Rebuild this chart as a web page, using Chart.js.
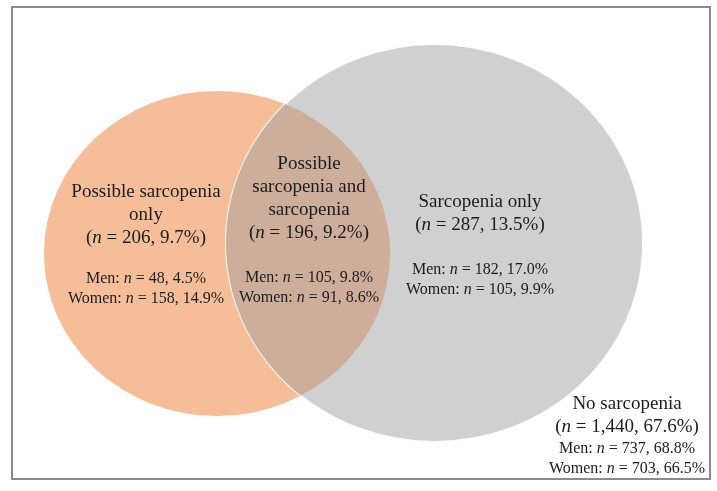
<!DOCTYPE html>
<html>
<head>
<meta charset="utf-8">
<script src="https://cdn.jsdelivr.net/npm/chart.js@4"></script>
<style>
html, body { margin: 0; padding: 0; background: #fff; }
#wrap { width: 717px; height: 491px; position: relative; }
</style>
</head>
<body>
<div id="wrap"><canvas id="myChart"></canvas></div>
<script>
// groups and counts
var groups = ['Possible sarcopenia\nonly', 'Possible\nsarcopenia and\nsarcopenia', 'Sarcopenia only', 'No sarcopenia'];
var totalN = [206, 196, 287, 1440];
var totalPct = [9.7, 9.2, 13.5, 67.6];
var menN = [48, 105, 182, 737];
var menPct = [4.5, 9.8, 17.0, 68.8];
var womenN = [158, 91, 105, 703];
var womenPct = [14.9, 8.6, 9.9, 66.5];

// layout (units of the x/y scales), stretch = width/height of the ellipse
var sets = [
    { name: 'Possible sarcopenia', x: 217, y: 253.5, r: 162.5, stretch: 1.065, color: '#F5BE98' },
    { name: 'Sarcopenia', x: 434.5, y: 243, r: 199, stretch: 1.048, color: '#D0D0D0' }
];
var lensColor = '#CDAE9B';
var labelPos = [
    { x: 146, y: 192, menY: 279 },
    { x: 309, y: 164, menY: 278 },
    { x: 480, y: 202, menY: 270 },
    { x: 627, y: 404, menY: 449 }
];
var frameBox = [12, 7, 710, 479];

var serif = "'Liberation Serif', 'Times New Roman', serif";
var textColor = '#1c1c1c';

function fmt(v) { return v.toLocaleString('en-US'); }

// draw a line made of plain / italic runs, centred on cx
function richLine(ctx, parts, cx, cy, size) {
    var widths = [], total = 0;
    parts.forEach(function (p) {
        ctx.font = (p[1] ? 'italic ' : '') + size + 'px ' + serif;
        var w = ctx.measureText(p[0]).width;
        widths.push(w);
        total += w;
    });
    var x = cx - total / 2;
    ctx.textAlign = 'left';
    ctx.textBaseline = 'middle';
    ctx.fillStyle = textColor;
    parts.forEach(function (p, i) {
        ctx.font = (p[1] ? 'italic ' : '') + size + 'px ' + serif;
        ctx.fillText(p[0], x, cy);
        x += widths[i];
    });
}

var vennPlugin = {
    id: 'venn',
    beforeDatasetDraw: function (chart, args) {
        var ctx = chart.ctx;
        var ds = chart.data.datasets[args.index];
        var el = args.meta.data[0];
        ctx.save();
        if (ds.clipTo !== undefined) {
            var g = chart.getDatasetMeta(ds.clipTo).data[0];
            var gs = chart.data.datasets[ds.clipTo].stretch;
            ctx.beginPath();
            ctx.ellipse(g.x, g.y, g.options.radius * gs, g.options.radius, 0, 0, Math.PI * 2);
            ctx.clip();
        }
        ctx.translate(el.x, 0);
        ctx.scale(ds.stretch, 1);
        ctx.translate(-el.x, 0);
    },
    afterDatasetDraw: function (chart) {
        chart.ctx.restore();
    },
    afterDraw: function (chart) {
        var ctx = chart.ctx;
        var xs = chart.scales.x, ys = chart.scales.y;

        // outer frame
        var x0 = xs.getPixelForValue(frameBox[0]), y0 = ys.getPixelForValue(frameBox[1]);
        var x1 = xs.getPixelForValue(frameBox[2]), y1 = ys.getPixelForValue(frameBox[3]);
        ctx.save();
        ctx.strokeStyle = '#8a8a8a';
        ctx.lineWidth = 2;
        ctx.strokeRect(x0, y0, x1 - x0, y1 - y0);

        // labels
        for (var i = 0; i < groups.length; i++) {
            var p = labelPos[i];
            var cx = xs.getPixelForValue(p.x);
            var lines = groups[i].split('\n');
            var y = p.y;
            lines.forEach(function (t) {
                richLine(ctx, [[t, false]], cx, ys.getPixelForValue(y), 19);
                y += 23;
            });
            richLine(ctx, [['(', false], ['n', true], [' = ' + fmt(totalN[i]) + ', ' + totalPct[i].toFixed(1) + '%)', false]],
                cx, ys.getPixelForValue(y), 19);
            richLine(ctx, [['Men: ', false], ['n', true], [' = ' + fmt(menN[i]) + ', ' + menPct[i].toFixed(1) + '%', false]],
                cx, ys.getPixelForValue(p.menY), 16);
            richLine(ctx, [['Women: ', false], ['n', true], [' = ' + fmt(womenN[i]) + ', ' + womenPct[i].toFixed(1) + '%', false]],
                cx, ys.getPixelForValue(p.menY + 20), 16);
        }
        ctx.restore();
    }
};

new Chart('myChart', {
    type: 'bubble',
    data: {
        datasets: [
            {
                label: sets[0].name,
                data: [{ x: sets[0].x, y: sets[0].y, r: sets[0].r }],
                backgroundColor: sets[0].color,
                borderWidth: 0,
                stretch: sets[0].stretch,
                order: 3
            },
            {
                label: sets[1].name,
                data: [{ x: sets[1].x, y: sets[1].y, r: sets[1].r }],
                backgroundColor: sets[1].color,
                borderColor: 'rgba(255,255,255,0.9)',
                borderWidth: 2,
                stretch: sets[1].stretch,
                order: 2
            },
            {
                label: 'Both',
                data: [{ x: sets[0].x, y: sets[0].y, r: sets[0].r }],
                backgroundColor: lensColor,
                borderWidth: 0,
                stretch: sets[0].stretch,
                clipTo: 1,
                order: 1
            }
        ]
    },
    options: {
        responsive: true,
        maintainAspectRatio: false,
        animation: false,
        events: [],
        layout: { padding: 0, autoPadding: false },
        plugins: {
            legend: { display: false },
            tooltip: { enabled: false }
        },
        scales: {
            x: { type: 'linear', min: 0, max: 717, display: false },
            y: { type: 'linear', min: 0, max: 491, reverse: true, display: false }
        }
    },
    plugins: [vennPlugin]
});
</script>
</body>
</html>
